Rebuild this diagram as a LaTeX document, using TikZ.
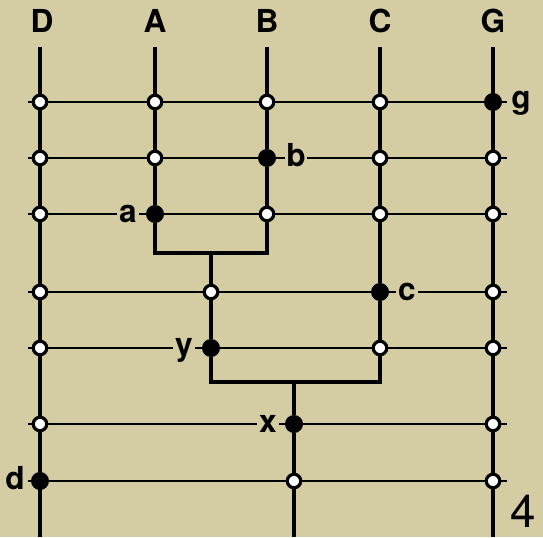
\documentclass[tikz,border=0pt]{standalone}
\usepackage{fontspec}
\setmainfont{TeX Gyre Heros}
\definecolor{paper}{RGB}{212,204,162}
\pgfdeclarelayer{paperlayer}
\pgfdeclarelayer{lines}
\pgfsetlayers{paperlayer,lines,main}
\begin{document}
\begin{tikzpicture}[x=0.02cm,y=-0.02cm,
  rail/.style={line width=2.3pt,line join=miter},
  wire/.style={line width=0.9pt},
  opendot/.style={circle,draw,line width=1.8pt,fill=white,inner sep=0pt,minimum size=0.27cm},
  fulldot/.style={circle,fill=black,inner sep=0pt,minimum size=0.36cm},
  head/.style={font=\bfseries\fontsize{18}{18}\selectfont,anchor=base},
  lbl/.style={font=\bfseries\fontsize{18}{18}\selectfont,anchor=base,fill=paper,inner sep=1pt}
]
  \begin{pgfonlayer}{paperlayer}
    \fill[paper] (0,0) rectangle (543,537);
  \end{pgfonlayer}
  \useasboundingbox (0,0) rectangle (543,537);

  % column heads
  \node[head] (hD) at (42,33) {D};
  \node[head] (hA) at (155,33) {A};
  \node[head] (hB) at (267,33) {B};
  \node[head] (hC) at (380,33) {C};
  \node[head] (hG) at (493,33) {G};

  % rail ends and bracket corners
  \coordinate (Dtop) at (40,47);   \coordinate (Dbot) at (40,537);
  \coordinate (Atop) at (155,47);  \coordinate (Btop) at (267,47);
  \coordinate (Ctop) at (380,47);  \coordinate (Gtop) at (493,47);
  \coordinate (Gbot) at (493,537);
  \coordinate (ABl) at (155,253);  \coordinate (ABr) at (267,253);
  \coordinate (ABm) at (211,253);
  \coordinate (ABCl) at (211,382); \coordinate (ABCr) at (380,382);
  \coordinate (ABCm) at (294,382); \coordinate (ABCbot) at (294,537);

  % row 1
  \node[opendot] (d1) at (40,102) {};
  \node[opendot] (a1) at (155,102) {};
  \node[opendot] (b1) at (267,102) {};
  \node[opendot] (c1) at (380,102) {};
  \node[fulldot] (g)  at (493,102) {};
  % row 2
  \node[opendot] (d2) at (40,158) {};
  \node[opendot] (a2) at (155,158) {};
  \node[fulldot] (b)  at (267,158) {};
  \node[opendot] (c2) at (380,158) {};
  \node[opendot] (g2) at (493,158) {};
  % row 3
  \node[opendot] (d3) at (40,214) {};
  \node[fulldot] (a)  at (155,214) {};
  \node[opendot] (b3) at (267,214) {};
  \node[opendot] (c3) at (380,214) {};
  \node[opendot] (g3) at (493,214) {};
  % row 4
  \node[opendot] (d4) at (40,292) {};
  \node[opendot] (m4) at (211,292) {};
  \node[fulldot] (c)  at (380,292) {};
  \node[opendot] (g4) at (493,292) {};
  % row 5
  \node[opendot] (d5) at (40,348) {};
  \node[fulldot] (y)  at (211,348) {};
  \node[opendot] (c5) at (380,348) {};
  \node[opendot] (g5) at (493,348) {};
  % row 6
  \node[opendot] (d6) at (40,424) {};
  \node[fulldot] (x)  at (294,424) {};
  \node[opendot] (g6) at (493,424) {};
  % row 7
  \node[fulldot] (d)  at (40,481) {};
  \node[opendot] (x7) at (294,481) {};
  \node[opendot] (g7) at (493,481) {};

  \foreach \r/\ry in {1/102,2/158,3/214,4/292,5/348,6/424,7/481}{
    \coordinate (w\r l) at (28,\ry);
    \coordinate (w\r r) at (507,\ry);
  }

  \begin{pgfonlayer}{lines}
    % thin rows
    \foreach \r in {1,...,7}
      \draw[wire] (w\r l) -- (w\r r);
    % thick rails
    \draw[rail] (Dtop) -- (Dbot);
    \draw[rail] (Gtop) -- (Gbot);
    \draw[rail] (Atop) -- (a) -- (ABl) -- (ABr) -- (b) -- (Btop);
    \draw[rail] (ABm) -- (m4) -- (y) -- (ABCl) -- (ABCr) -- (c) -- (Ctop);
    \draw[rail] (ABCm) -- (x) -- (x7) -- (ABCbot);
  \end{pgfonlayer}

  % dot labels
  \node[lbl] (la) at (128,222) {a};
  \node[lbl] (lb) at (296,166) {b};
  \node[lbl] (lc) at (407,300) {c};
  \node[lbl] (ly) at (184,355) {y};
  \node[lbl] (lx) at (268,432) {x};
  \node[lbl] (ld) at (15,489) {d};
  \node[lbl] (lg) at (521,108) {g};

  % figure number
  \node[font=\fontsize{26}{26}\selectfont,anchor=base east,inner sep=0pt] (num) at (536,527) {4};
\end{tikzpicture}
\end{document}
